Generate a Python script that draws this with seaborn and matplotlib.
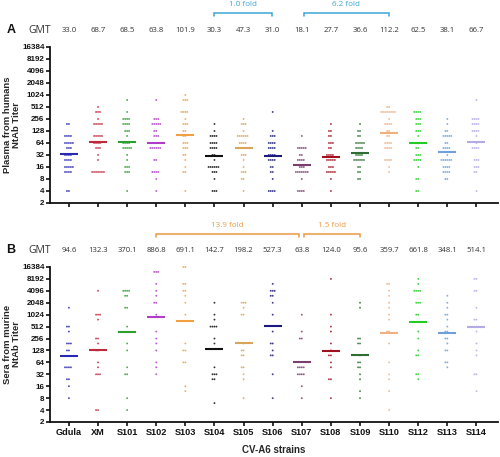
import numpy as np
import pandas as pd
import matplotlib
matplotlib.use("Agg")
import matplotlib.pyplot as plt
import seaborn as sns
from matplotlib.transforms import blended_transform_factory
from matplotlib.ticker import NullLocator

# ---------------- data ----------------
strains = ["Gdula", "XM", "S101", "S102", "S103", "S104", "S105", "S106",
           "S107", "S108", "S109", "S110", "S112", "S113", "S114"]
gmt_human = [33.0, 68.7, 68.5, 63.8, 101.9, 30.3, 47.3, 31.0,
             18.1, 27.7, 36.6, 112.2, 62.5, 38.1, 66.7]
gmt_murine = [94.6, 132.3, 370.1, 886.8, 691.1, 142.7, 198.2, 527.3,
              63.8, 124.0, 95.6, 359.7, 661.8, 348.1, 514.1]
yticks = [2, 4, 8, 16, 32, 64, 128, 256, 512, 1024, 2048, 4096, 8192, 16384]

# titer: number of samples, per strain (panel A, human plasma)
human_gdula = {192: 2, 96: 4, 64: 5, 48: 3, 32: 4, 24: 4, 16: 5, 12: 4, 4: 2}
human_xm = {512: 1, 384: 3, 256: 1, 192: 5, 96: 5, 64: 4, 48: 3, 32: 1, 24: 1, 12: 7}
human_s101 = {768: 1, 384: 1, 256: 4, 192: 4, 128: 3, 96: 1, 64: 4, 48: 5, 32: 1, 24: 1, 16: 3, 12: 3, 4: 1}
human_s102 = {768: 1, 256: 3, 192: 5, 128: 2, 96: 3, 64: 4, 48: 6, 24: 2, 12: 4, 8: 1, 4: 1}
human_s103 = {1024: 1, 768: 3, 384: 4, 256: 1, 192: 3, 128: 2, 96: 2, 64: 3, 48: 3, 32: 2, 24: 1, 16: 1, 12: 2, 4: 1}
human_s104 = {192: 1, 128: 1, 96: 4, 64: 4, 48: 4, 32: 2, 24: 1, 16: 6, 12: 3, 8: 1, 4: 3}
human_s105 = {256: 1, 192: 3, 128: 1, 96: 6, 64: 4, 48: 5, 32: 3, 24: 1, 16: 1, 12: 3, 8: 2, 4: 1}
human_s106 = {384: 1, 128: 1, 96: 3, 64: 4, 48: 4, 32: 4, 24: 4, 16: 2, 12: 2, 8: 1, 4: 4}
human_s107 = {96: 1, 48: 5, 32: 2, 24: 4, 16: 3, 12: 7, 8: 1, 4: 4}
human_s108 = {192: 1, 128: 2, 96: 2, 64: 3, 48: 2, 32: 4, 24: 5, 16: 3, 12: 5, 8: 1, 4: 1}
human_s109 = {192: 1, 128: 2, 96: 2, 64: 5, 48: 4, 32: 4, 24: 6, 16: 2, 12: 2, 8: 2}
human_s110 = {512: 2, 384: 8, 256: 1, 192: 4, 128: 2, 96: 2, 64: 4, 48: 4, 24: 4, 16: 1, 12: 1}
human_s112 = {384: 4, 256: 3, 192: 3, 128: 3, 96: 1, 64: 2, 48: 2, 32: 3, 24: 4, 16: 1, 8: 2, 4: 2}
human_s113 = {256: 1, 192: 1, 128: 2, 96: 5, 64: 2, 48: 4, 32: 1, 24: 6, 16: 4, 12: 4, 8: 2}
human_s114 = {768: 1, 256: 4, 192: 4, 128: 4, 96: 1, 64: 1, 48: 4, 24: 3, 16: 3, 12: 2, 4: 1}

# panel B, murine sera
murine_gdula = {1536: 1, 512: 2, 384: 1, 192: 3, 128: 2, 48: 4, 24: 2, 16: 1, 8: 1}
murine_xm = {4096: 1, 1024: 3, 768: 1, 256: 2, 192: 1, 128: 2, 64: 1, 48: 1, 32: 3, 4: 2}
murine_s101 = {4096: 4, 3072: 2, 1536: 2, 512: 1, 192: 1, 128: 1, 48: 1, 32: 2, 8: 1, 4: 1}
murine_s102 = {12288: 3, 6144: 1, 4096: 1, 3072: 1, 2048: 2, 1024: 1, 384: 1, 256: 1, 192: 1, 128: 1, 64: 1, 48: 1, 32: 1}
murine_s103 = {16384: 2, 6144: 2, 4096: 2, 3072: 1, 2048: 1, 1024: 1, 192: 1, 128: 2, 64: 2, 16: 1, 12: 1}
murine_s104 = {2048: 1, 1024: 1, 768: 1, 512: 4, 256: 1, 192: 1, 48: 1, 32: 3, 24: 2, 6: 1}
murine_s105 = {2048: 3, 1536: 1, 1024: 2, 192: 1, 128: 2, 96: 2, 48: 2, 32: 1, 24: 1, 8: 1}
murine_s106 = {6144: 1, 4096: 3, 3072: 2, 2048: 1, 1024: 1, 384: 1, 192: 2, 128: 1, 96: 2, 32: 1, 8: 1}
murine_s107 = {1024: 1, 384: 1, 256: 2, 48: 4, 32: 4, 16: 1, 8: 1}
murine_s108 = {8192: 1, 1024: 1, 512: 1, 384: 1, 192: 1, 128: 1, 96: 2, 64: 1, 48: 1, 24: 2, 8: 1}
murine_s109 = {2048: 1, 1536: 1, 256: 2, 192: 2, 96: 1, 64: 2, 48: 2, 32: 1, 24: 1, 12: 1, 8: 1}
murine_s110 = {6144: 2, 4096: 1, 3072: 1, 2048: 1, 1536: 1, 1024: 1, 768: 1, 384: 2, 192: 1, 64: 1, 32: 1, 24: 1, 12: 1, 4: 1}
murine_s112 = {8192: 1, 6144: 1, 4096: 4, 2048: 3, 1024: 2, 384: 1, 256: 1, 128: 1, 96: 2, 32: 2, 24: 1}
murine_s113 = {3072: 1, 2048: 1, 1536: 1, 1024: 2, 768: 1, 512: 1, 384: 2, 256: 2, 192: 1, 128: 2, 64: 2, 48: 1}
murine_s114 = {8192: 2, 4096: 2, 1536: 1, 768: 2, 512: 1, 384: 1, 192: 1, 128: 1, 96: 1, 32: 2, 12: 1}

human_counts = [human_gdula, human_xm, human_s101, human_s102, human_s103, human_s104,
                human_s105, human_s106, human_s107, human_s108, human_s109, human_s110,
                human_s112, human_s113, human_s114]
murine_counts = [murine_gdula, murine_xm, murine_s101, murine_s102, murine_s103, murine_s104,
                 murine_s105, murine_s106, murine_s107, murine_s108, murine_s109, murine_s110,
                 murine_s112, murine_s113, murine_s114]

colors = ["#2a2ab0", "#c0283c", "#2ca02c", "#b03cc8", "#f0a040", "#111111",
          "#d9a55a", "#1a1a80", "#7a3e6e", "#a0101e", "#2e6e30", "#f0b080",
          "#22cc22", "#6f9fdc", "#b4aae6"]
palette = dict(zip(strains, colors))

# ---------------- figure ----------------
sns.set_theme(style="ticks")
plt.rcParams['font.family'] = ['Liberation Sans', 'DejaVu Sans']

fig = plt.figure(figsize=(5.0, 4.57), dpi=100)
axA = fig.add_axes([0.100, 0.5558, 0.896, 0.3414])
axB = fig.add_axes([0.100, 0.0766, 0.896, 0.3392])


def to_frame(counts):
    rows = []
    for s, d in zip(strains, counts):
        for v, n in d.items():
            rows += [(s, v)] * n
    return pd.DataFrame(rows, columns=["strain", "titer"])


def bracket(ax, x0, x1, y, text, color):
    tr = blended_transform_factory(ax.transData, ax.transAxes)
    ax.plot([x0, x0, x1, x1], [y - 0.02, y, y, y - 0.02], transform=tr,
            clip_on=False, color=color, lw=1.1, solid_joinstyle="miter")
    ax.text((x0 + x1) / 2, y + 0.055, text, transform=tr, ha="center", va="center",
            fontsize=5.8, color=color, family=["Open Sans", "DejaVu Sans"])


def draw(ax, counts, gmt, ylabel, letter, show_x):
    df = to_frame(counts)
    sns.swarmplot(data=df, x="strain", y="titer", hue="strain", order=strains,
                  hue_order=strains, palette=palette, size=1.35, linewidth=0,
                  alpha=0.85, log_scale=2, legend=False, ax=ax, warn_thresh=1.0)
    for c in ax.collections:
        c.set_clip_on(False)
    xs = np.arange(len(strains))
    ax.hlines(gmt, xs - 0.31, xs + 0.31, colors=colors, lw=1.5, zorder=4)
    ax.set_ylim(2, 16384)
    ax.set_yticks(yticks)
    ax.set_yticklabels([str(t) for t in yticks])
    ax.yaxis.set_minor_locator(NullLocator())
    ax.set_xlim(-0.65, 14.74)
    sns.despine(ax=ax)
    for sp in ("left", "bottom"):
        ax.spines[sp].set_linewidth(1.3)
        ax.spines[sp].set_color("#111111")
    ax.tick_params(axis="both", direction="out", length=3.0, width=1.2,
                   colors="#111111", labelsize=5.8, pad=1.0)
    for lab in ax.get_yticklabels():
        lab.set_fontweight("bold")
    ax.set_ylabel(ylabel, fontsize=6.8, fontweight="bold", labelpad=1, linespacing=1.0)
    if show_x:
        for lab in ax.get_xticklabels():
            lab.set_fontweight("bold")
            lab.set_fontsize(6.6)
        ax.set_xlabel("CV-A6 strains", fontsize=7, fontweight="bold", labelpad=6)
    else:
        ax.set_xticklabels([])
        ax.set_xlabel("")
    tr = blended_transform_factory(ax.transData, ax.transAxes)
    for i, g in enumerate(gmt):
        ax.text(i, 1.108, f"{g:.1f}", transform=tr, ha="center", va="center",
                fontsize=5.6, color="#333333", family=["Open Sans", "DejaVu Sans"])
    ax.text(-1.0, 1.108, "GMT", transform=tr, ha="center", va="center",
            fontsize=7.5, color="#333333", family=["Open Sans", "DejaVu Sans"])
    ax.text(-2.0, 1.108, letter, transform=tr, ha="center", va="center",
            fontsize=9, fontweight="bold", color="#111111")


draw(axA, human_counts, gmt_human, "Plasma from humans\nNtAb Titer", "A", False)
draw(axB, murine_counts, gmt_murine, "Sera from murine\nNtAb Titer", "B", True)

blue = "#3aa6d6"
orange = "#ec9a45"
bracket(axA, 5.0, 6.97, 1.216, "1.0 fold", blue)
bracket(axA, 8.06, 10.98, 1.216, "6.2 fold", blue)
bracket(axB, 3.0, 7.9, 1.213, "13.9 fold", orange)
bracket(axB, 8.07, 10.0, 1.213, "1.5 fold", orange)

fig.savefig("out.png", dpi=100)
